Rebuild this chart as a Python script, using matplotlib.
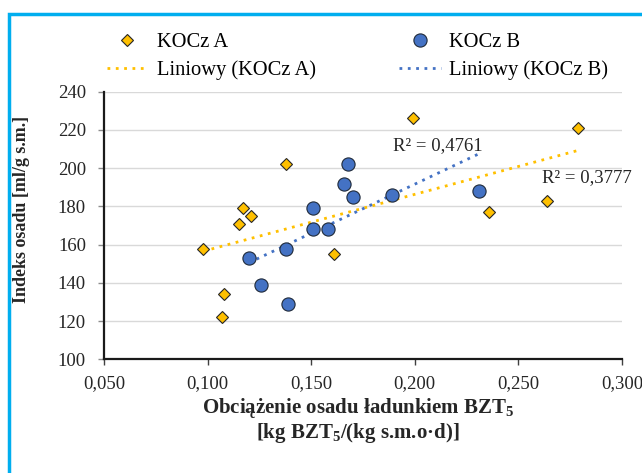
import numpy as np
import matplotlib
matplotlib.use("Agg")
import matplotlib.pyplot as plt
from matplotlib.ticker import FuncFormatter, MultipleLocator
from matplotlib.patches import Rectangle

plt.rcParams['font.family'] = ['Liberation Serif', 'DejaVu Serif']
plt.rcParams['mathtext.fontset'] = 'custom'
plt.rcParams['mathtext.rm'] = 'Liberation Serif'
plt.rcParams['mathtext.bf'] = 'Liberation Serif:bold'

#%% data
load_A = [0.098, 0.108, 0.107, 0.115, 0.117, 0.121, 0.138, 0.161, 0.199, 0.236, 0.264, 0.279]
svi_A = [158, 134, 122, 171, 179, 175, 202, 155, 226, 177, 183, 221]

load_B = [0.120, 0.126, 0.138, 0.139, 0.151, 0.151, 0.158, 0.166, 0.168, 0.170, 0.189, 0.231]
svi_B = [153, 139, 158, 129, 179, 168, 168, 192, 202, 185, 186, 188]

r2_A = "R² = 0,3777"
r2_B = "R² = 0,4761"

col_A = '#FFC000'
col_B = '#4472C4'

#%%
fig = plt.figure(figsize=(6.42, 4.73), dpi=100)
ax = fig.add_axes([104/642, 1 - 359.5/473, 518/642, 267.8/473])

# trend lines (least squares, drawn over the data range like Excel)
def trend(x, y):
    x = np.asarray(x)
    a, b = np.polyfit(x, y, 1)
    xs = np.array([x.min(), x.max()])
    return xs, a*xs + b

xa, ya = trend(load_A, svi_A)
xb, yb = trend(load_B, svi_B)

hA, = ax.plot(load_A, svi_A, linestyle='none', marker='D', markersize=6.5,
              markerfacecolor=col_A, markeredgecolor='#262626', markeredgewidth=0.8,
              label='KOCz A', zorder=4)
hB, = ax.plot(load_B, svi_B, linestyle='none', marker='o', markersize=9.5,
              markerfacecolor=col_B, markeredgecolor='#1f2a3a', markeredgewidth=0.8,
              label='KOCz B', zorder=4)
lA, = ax.plot(xa, ya, linestyle=(0, (1, 2)), color=col_A, lw=2,
              label='Liniowy (KOCz A)', zorder=3)
lB, = ax.plot(xb, yb, linestyle=(0, (1, 2)), color=col_B, lw=2,
              label='Liniowy (KOCz B)', zorder=3)

ax.text(0.211, 211.6, r2_B, ha='center', va='center', fontsize=13.5, color='#262626')
ax.text(0.2829, 195.3, r2_A, ha='center', va='center', fontsize=13.5, color='#262626',
        clip_on=False)

ax.set_xlim(0.05, 0.30)
ax.set_ylim(100, 240)
ax.xaxis.set_major_locator(MultipleLocator(0.05))
ax.yaxis.set_major_locator(MultipleLocator(20))
ax.xaxis.set_major_formatter(FuncFormatter(lambda v, p: f"{v:.3f}".replace('.', ',')))
ax.grid(axis='y', color='#D9D9D9', lw=1)
ax.set_axisbelow(True)

for s in ['top', 'right']:
    ax.spines[s].set_visible(False)
for s in ['left', 'bottom']:
    ax.spines[s].set_linewidth(1.6)
    ax.spines[s].set_color('#1a1a1a')
ax.tick_params(axis='both', labelsize=13.5, colors='#262626', length=4, width=1)
ax.tick_params(axis='y', color='#8c8c8c', pad=9)
ax.tick_params(axis='x', color='#404040', pad=7)

ax.set_ylabel('Indeks osadu [ml/g s.m.]', fontsize=13, fontweight='bold', color='#262626')
ax.yaxis.set_label_coords(-0.143, 0.56)

fig.text(0.558, 1 - 408/473, r'Obciążenie osadu ładunkiem BZT$_\mathbf{5}$',
         ha='center', va='center', fontsize=15, fontweight='bold', color='#262626')
fig.text(0.558, 1 - 433/473, r'[kg BZT$_\mathbf{5}$/(kg s.m.o·d)]',
         ha='center', va='center', fontsize=15, fontweight='bold', color='#262626')

fig.legend(handles=[hA, lA, hB, lB], ncol=2, frameon=False, fontsize=14.8,
           loc='upper left', bbox_to_anchor=(106.5/642, 1 - 33/473),
           handlelength=2.03, handletextpad=0.41, columnspacing=4.05,
           labelspacing=0.37, borderaxespad=0, borderpad=0)

# cyan frame around the figure (cut at right and bottom)
fig.patches.append(Rectangle((8.5/642, -0.1), 1.2, 1 - 14/473 + 0.1,
                             transform=fig.transFigure, fill=False,
                             edgecolor='#00AEEF', lw=2.5, zorder=0))

fig.savefig('out.png', dpi=100)
